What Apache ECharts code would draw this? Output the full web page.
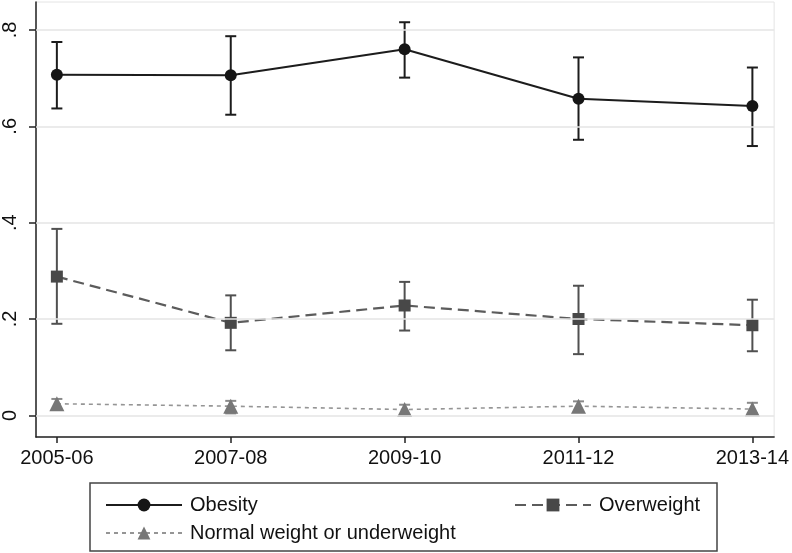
<!DOCTYPE html>
<html>
<head>
<meta charset="utf-8">
<script src="https://cdn.jsdelivr.net/npm/echarts@6/dist/echarts.min.js"></script>
<style>
  html, body { margin: 0; padding: 0; background: #fff; }
  #main { width: 792px; height: 553px; }
</style>
</head>
<body>
<div id="main"></div>
<script>
// periods on the x axis
var periods = ['2005-06', '2007-08', '2009-10', '2011-12', '2013-14'];
var xTicks = [0, 1, 2, 3, 4];

// y ticks and their labels
var yTicks = [0, 0.2, 0.4, 0.6, 0.8];
var yTickLabels = ['0', '.2', '.4', '.6', '.8'];

// estimates and 95% CI
var obesity   = [0.707, 0.706, 0.760, 0.657, 0.642];
var obesityLo = [0.637, 0.624, 0.701, 0.572, 0.559];
var obesityHi = [0.775, 0.787, 0.816, 0.743, 0.722];

var overweight   = [0.288, 0.192, 0.228, 0.200, 0.187];
var overweightLo = [0.190, 0.135, 0.176, 0.127, 0.133];
var overweightHi = [0.387, 0.249, 0.277, 0.269, 0.240];

var normal   = [0.024, 0.019, 0.012, 0.019, 0.013];
var normalLo = [0.012, 0.004, 0.002, 0.007, 0.004];
var normalHi = [0.034, 0.030, 0.022, 0.029, 0.026];

var FONT = '"Liberation Sans", Arial, Helvetica, sans-serif';

function points(vals) {
    var out = [];
    for (var i = 0; i < vals.length; i++) out.push([xTicks[i], vals[i]]);
    return out;
}
function ranges(lo, hi) {
    var out = [];
    for (var i = 0; i < lo.length; i++) out.push([xTicks[i], lo[i], hi[i]]);
    return out;
}

// error bar: vertical line + 2 caps
function errorBar(color) {
    return function (params, api) {
        var top = api.coord([api.value(0), api.value(2)]);
        var bot = api.coord([api.value(0), api.value(1)]);
        var w = 5.5;
        var st = { stroke: color, lineWidth: 2 };
        return {
            type: 'group',
            children: [
                { type: 'line', shape: { x1: top[0], y1: top[1], x2: bot[0], y2: bot[1] }, style: st },
                { type: 'line', shape: { x1: top[0] - w, y1: top[1], x2: top[0] + w, y2: top[1] }, style: st },
                { type: 'line', shape: { x1: bot[0] - w, y1: bot[1], x2: bot[0] + w, y2: bot[1] }, style: st }
            ]
        };
    };
}

var myChart = echarts.init(document.getElementById('main'));

var legendText = { fontFamily: FONT, fontSize: 20, color: '#111', padding: [0, 0, 0, 3] };

var option = {
    animation: false,
    backgroundColor: '#fff',
    grid: {
        left: 33, right: 16, top: 2, bottom: 116,
        show: true, borderColor: '#e4e4e4', borderWidth: 1
    },
    xAxis: {
        type: 'value',
        min: -0.12,
        max: 4.125,
        splitLine: { show: false },
        axisLine: { onZero: false, lineStyle: { color: '#222', width: 1.5 } },
        axisTick: { customValues: xTicks, length: 6, lineStyle: { color: '#222', width: 1.5 } },
        axisLabel: {
            customValues: xTicks,
            fontFamily: FONT, fontSize: 20, color: '#111', margin: 11,
            formatter: function (v) { return periods[Math.round(v)]; }
        }
    },
    yAxis: {
        type: 'value',
        min: -0.045,
        max: 0.858,
        splitLine: { show: false },
        axisLine: { show: true, onZero: false, lineStyle: { color: '#222', width: 1.5 } },
        axisTick: { show: true, customValues: yTicks, length: 7, lineStyle: { color: '#222', width: 1.5 } },
        axisLabel: {
            customValues: yTicks,
            rotate: 90,
            fontFamily: FONT, fontSize: 20, color: '#111', margin: 16,
            formatter: function (v) {
                for (var i = 0; i < yTicks.length; i++) {
                    if (Math.abs(yTicks[i] - v) < 1e-6) return yTickLabels[i];
                }
                return '';
            }
        }
    },
    legend: [
        {
            orient: 'vertical',
            left: 100, top: 490,
            itemWidth: 76, itemHeight: 16, itemGap: 8,
            textStyle: legendText,
            data: ['Obesity', 'Normal weight or underweight']
        },
        {
            orient: 'vertical',
            left: 509, top: 490,
            itemWidth: 76, itemHeight: 16, itemGap: 8,
            textStyle: legendText,
            data: ['Overweight']
        }
    ],
    graphic: [
        {
            type: 'rect',
            shape: { x: 90, y: 483, width: 627, height: 68 },
            style: { fill: null, stroke: '#444', lineWidth: 1.5 },
            silent: true
        }
    ],
    series: [
        {
            // light gridlines at the y ticks
            name: 'gridlines',
            type: 'line',
            data: [],
            z: 0,
            markLine: {
                silent: true,
                symbol: 'none',
                label: { show: false },
                lineStyle: { color: '#e4e4e4', width: 1.5, type: 'solid' },
                data: yTicks.map(function (t) { return { yAxis: t }; })
            }
        },
        {
            name: 'ciObesity', type: 'custom', z: 1,
            renderItem: errorBar('#1c1c1c'),
            data: ranges(obesityLo, obesityHi)
        },
        {
            name: 'ciOverweight', type: 'custom', z: 1,
            renderItem: errorBar('#505050'),
            data: ranges(overweightLo, overweightHi)
        },
        {
            name: 'ciNormal', type: 'custom', z: 1,
            renderItem: errorBar('#8a8a8a'),
            data: ranges(normalLo, normalHi)
        },
        {
            name: 'Obesity', type: 'line', z: 3,
            symbol: 'circle', symbolSize: 12,
            itemStyle: { color: '#151515' },
            lineStyle: { color: '#1c1c1c', width: 2 },
            data: points(obesity)
        },
        {
            name: 'Overweight', type: 'line', z: 3,
            symbol: 'rect', symbolSize: 12,
            itemStyle: { color: '#484848' },
            lineStyle: { color: '#5c5c5c', width: 2.2, type: [11, 6] },
            data: points(overweight)
        },
        {
            name: 'Normal weight or underweight', type: 'line', z: 3,
            symbol: 'triangle', symbolSize: 15,
            itemStyle: { color: '#777777' },
            lineStyle: { color: '#959595', width: 1.6, type: [4, 4] },
            data: points(normal)
        }
    ]
};

myChart.setOption(option, true);
</script>
</body>
</html>
